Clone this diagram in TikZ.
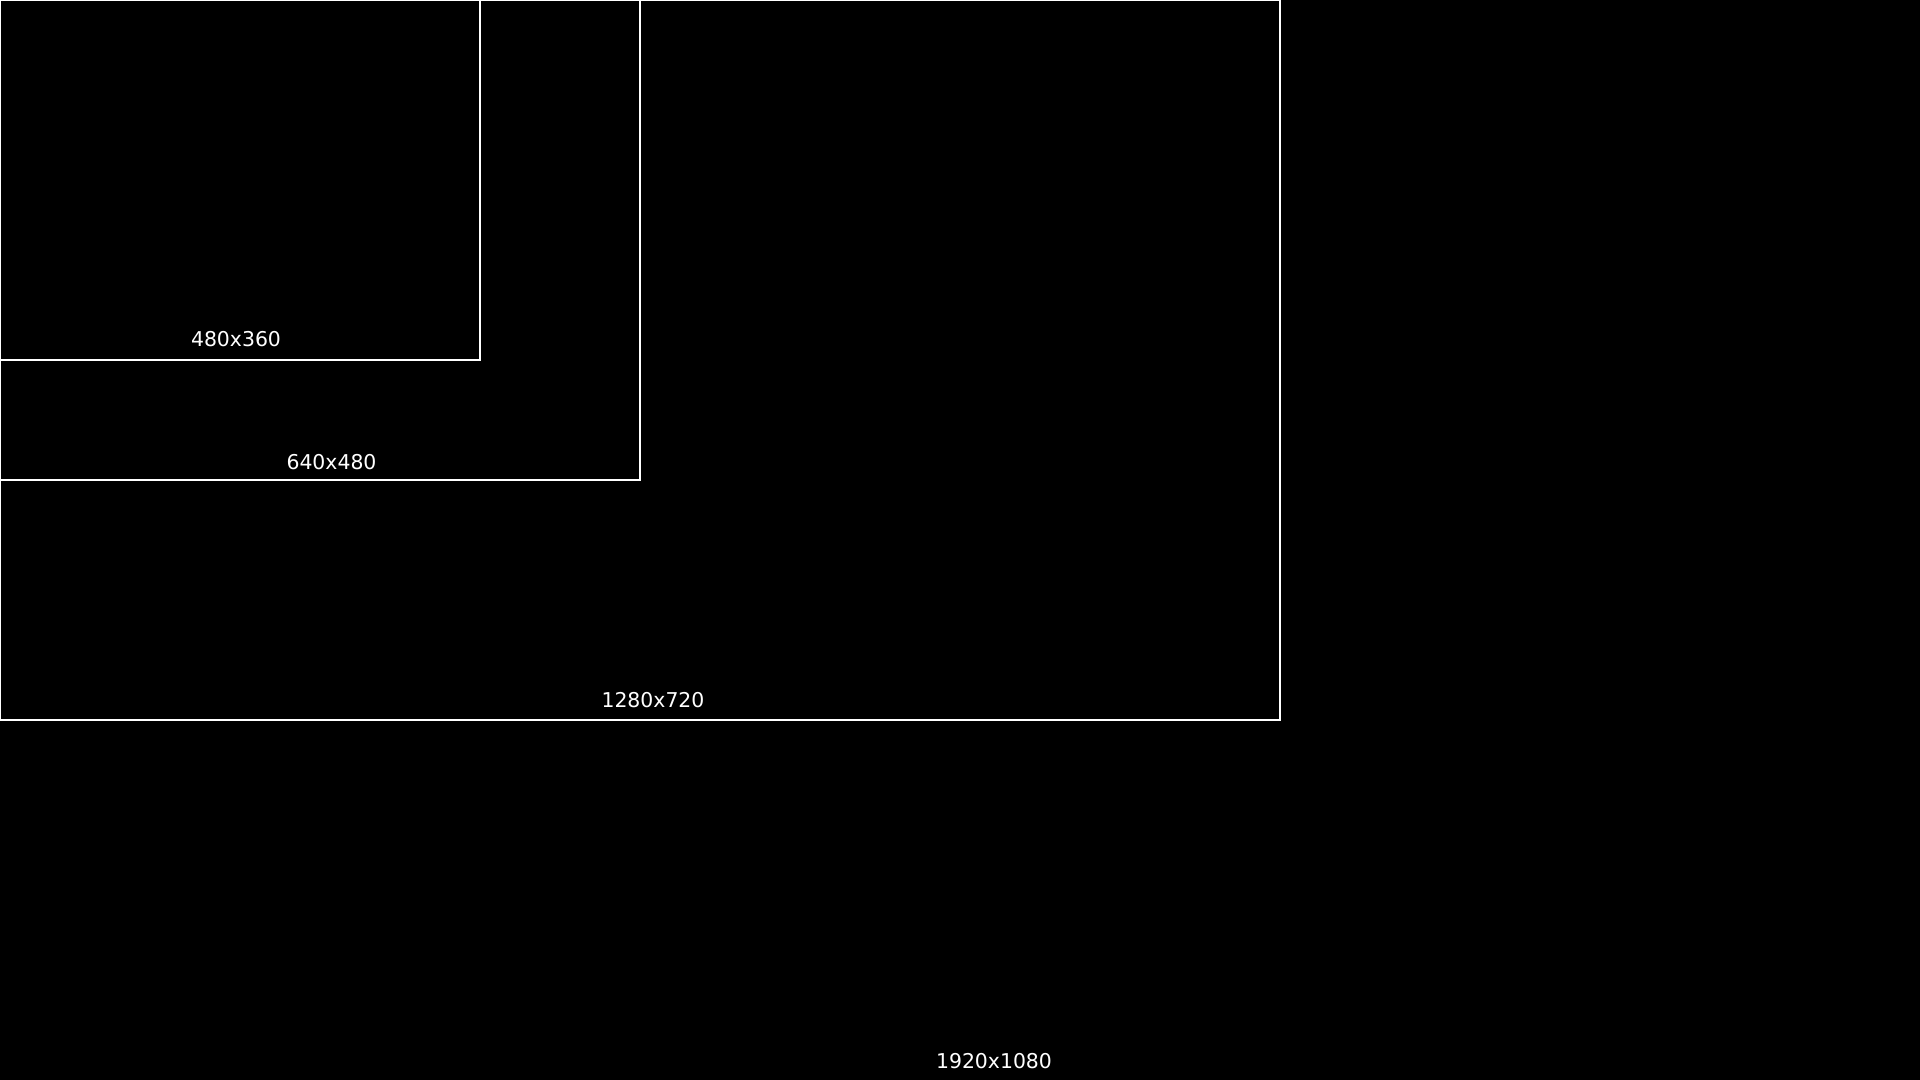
\documentclass[tikz,border=0pt]{standalone}
\usepackage{fontspec}
\setmainfont{DejaVu Sans}
\usepackage{tikz}

\tikzset{
  frame/.style={draw=white,line width=1pt},
  sizelabel/.style={text=white,anchor=base,inner sep=0pt,font=\fontsize{10.2pt}{12pt}\selectfont}
}

\begin{document}
\begin{tikzpicture}[x=0.5pt,y=-0.5pt]
		% screen background
		\fill[black] (0,0) rectangle (1920,1080);
		\useasboundingbox (0,0) rectangle (1920,1080);
		% nested resolutions, all from the top left corner
		\draw[frame] (0,0) rectangle (480,360);
		\draw[frame] (0,0) rectangle (640,480);
		\draw[frame] (0,0) rectangle (1280,720);
		% labels
		\node[sizelabel] (lbl480) at (236,347) {480x360};
		\node[sizelabel] (lbl640) at (331.5,469) {640x480};
		\node[sizelabel] (lbl1280) at (653,707) {1280x720};
		\node[sizelabel] (lbl1920) at (994,1068) {1920x1080};
	\end{tikzpicture}
\end{document}
